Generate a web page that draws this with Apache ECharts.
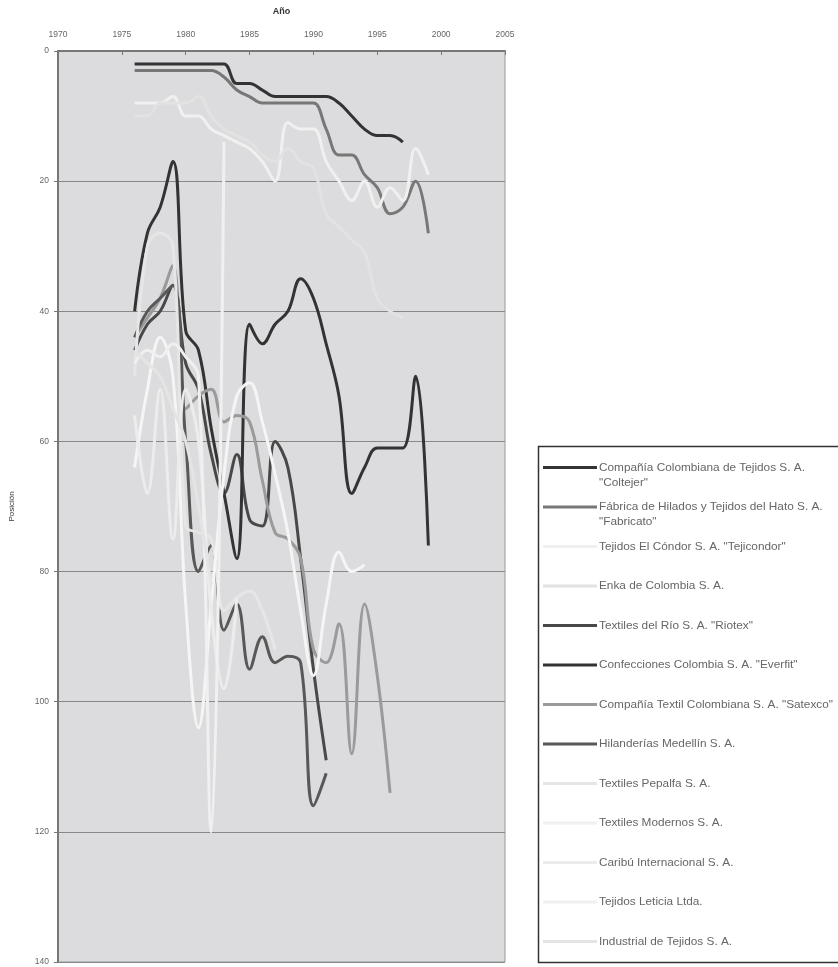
<!DOCTYPE html>
<html><head><meta charset="utf-8">
<script src="https://cdn.jsdelivr.net/npm/echarts@6/dist/echarts.min.js"></script>
<style>html,body{margin:0;padding:0;background:#fff}#c{width:838px;height:967px}</style>
</head><body><div id="c"></div>
<script>
const years = [1976,1977,1978,1979,1980,1981,1982,1983,1984,1985,1986,1987,1988,1989,1990,1991,1992,1993,1994,1995,1996,1997,1998,1999];
const xTicks = [1970,1975,1980,1985,1990,1995,2000,2005];
const yTicks = [0,20,40,60,80,100,120,140];

const coltejer   = [2,2,2,2,2,2,2,2,5,5,6,7,7,7,7,7,8,10,12,13,13,14,null,null];
const fabricato  = [3,3,3,3,3,3,3,4,6,7,8,8,8,8,8,12,16,16,19,21,25,24,20,28];
const tejicondor = [8,8,8,7,10,10,12,13,14,15,17,20,11,12,12,17,20,23,20,24,21,23,15,19];
const enka       = [10,10,8,8,8,7,10,12,13,14,16,17,15,17,18,25,27,29,31,38,40,41,null,null];
const riotex     = [46,42,40,36,48,52,62,68,62,72,73,60,64,78,95,109,null,null,null,null,null,null,null,null];
const everfit    = [40,28,24,17,43,46,58,68,78,42,45,42,40,35,38,45,53,68,64,61,61,61,50,76];
const satexco    = [44,41,38,33,55,53,52,57,56,57,66,74,75,78,92,94,88,108,85,96,114,null,null,null];
const hilanderias= [44,40,38,36,60,80,76,89,85,95,90,94,93,94,116,111,null,null,null,null,null,null,null,null];
const pepalfa    = [50,30,28,30,73,74,75,86,84,83,86,92,null,null,null,null,null,null,null,null,null,null,null,null];
const modernos   = [64,52,44,50,85,104,85,65,53,51,57,65,74,86,96,85,77,80,79,null,null,null,null,null];
const caribu     = [56,68,52,75,52,60,86,98,84,null,null,null,null,null,null,null,null,null,null,null,null,null,null,null];
const leticia    = [48,46,47,45,47,50,120,14,null,null,null,null,null,null,null,null,null,null,null,null,null,null,null,null];
const industrial = [46,48,50,55,60,70,82,null,null,null,null,null,null,null,null,null,null,null,null,null,null,null,null,null];

const names = [
  'Compañía Colombiana de Tejidos S. A.\n"Coltejer"',
  'Fábrica de Hilados y Tejidos del Hato S. A.\n"Fabricato"',
  'Tejidos El Cóndor S. A. "Tejicondor"',
  'Enka de Colombia S. A.',
  'Textiles del Río S. A. "Riotex"',
  'Confecciones Colombia S. A. "Everfit"',
  'Compañía Textil Colombiana S. A. "Satexco"',
  'Hilanderías Medellín S. A.',
  'Textiles Pepalfa S. A.',
  'Textiles Modernos S. A.',
  'Caribú Internacional S. A.',
  'Tejidos Leticia Ltda.',
  'Industrial de Tejidos S. A.'
];
const values = [coltejer,fabricato,tejicondor,enka,riotex,everfit,satexco,hilanderias,pepalfa,modernos,caribu,leticia,industrial];
const colors = ['#333333','#777777','#f0f0f0','#e2e2e2','#484848','#333333','#9a9a9a','#585858','#e6e6e6','#f5f5f5','#ececec','#f0f0f0','#e4e4e4'];

const series = values.map((arr,i)=>({
  name: names[i], type:'line', smooth:0.4, symbol:'none',
  data: years.map((y,j)=>[y,arr[j]]),
  lineStyle:{color:colors[i], width:3},
  itemStyle:{color:colors[i]},
  z: 2
}));

const graphic = [{type:'rect', shape:{x:538.5,y:446.5,width:320,height:516}, style:{fill:'#fff',stroke:'#333',lineWidth:1.5}}];
names.forEach((n,i)=>{
  const y = 467.5 + i*39.5;
  graphic.push({type:'line', shape:{x1:543,y1:y,x2:597,y2:y}, style:{stroke: colors[i]==='#f5f5f5'?'#f0f0f0':colors[i], lineWidth:3}});
  graphic.push({type:'text', x:599, y:y-7.5, style:{text:n, fill:'#666', font:'11.8px "Liberation Sans", Arial, sans-serif', lineHeight:15}});
});

const chart = echarts.init(document.getElementById('c'), null, {renderer:'canvas'});
chart.setOption({
  animation:false,
  backgroundColor:'#fff',
  grid:{left:55, top:51, width:450, height:911, backgroundColor:'#dcdcde', show:true, borderColor:'#999', borderWidth:1},
  xAxis:{type:'value', position:'top', min:xTicks[0], max:xTicks[xTicks.length-1], interval:5,
    name:'Año', nameLocation:'middle', nameGap:35,
    nameTextStyle:{fontWeight:'bold', fontSize:9, color:'#333', fontFamily:'Liberation Sans'},
    axisLine:{lineStyle:{color:'#777', width:2}},
    axisTick:{show:true, inside:true, length:4, lineStyle:{color:'#777'}},
    axisLabel:{color:'#666', fontSize:8.5, margin:12, fontFamily:'Liberation Sans', formatter:v=>String(v)},
    splitLine:{show:false}},
  yAxis:{type:'value', inverse:true, min:yTicks[0], max:yTicks[yTicks.length-1], interval:20,
    name:'Posición', nameLocation:'middle', nameGap:42, nameRotate:90,
    nameTextStyle:{fontSize:8, color:'#333', fontFamily:'Liberation Sans'},
    axisLine:{show:true, lineStyle:{color:'#777', width:2}},
    axisTick:{show:true, length:4, lineStyle:{color:'#777'}},
    axisLabel:{color:'#666', fontSize:8.5, margin:9, fontFamily:'Liberation Sans'},
    splitLine:{show:true, lineStyle:{color:'#888', width:1}}},
  series: series,
  graphic: graphic
});
</script></body></html>
